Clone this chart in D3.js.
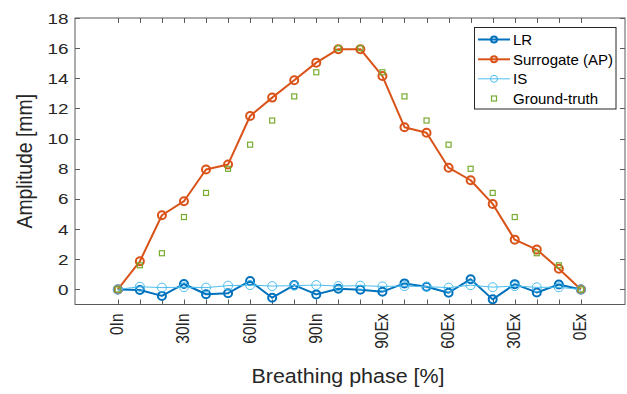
<!DOCTYPE html>
<html>
<head>
<meta charset="utf-8">
<script src="https://cdn.jsdelivr.net/npm/d3@7"></script>
<style>
  html, body { margin: 0; padding: 0; background: #fff; }
  svg { display: block; font-family: "Liberation Sans", Arial, sans-serif; }
</style>
</head>
<body>
<svg id="chart" width="627" height="394"></svg>
<script>
// Breathing phase index (0..21) and tick labels
const phaseIndex = d3.range(22);
const tickPositions = [0, 3, 6, 9, 12, 15, 18, 21];
const tickLabels = ["0In", "30In", "60In", "90In", "90Ex", "60Ex", "30Ex", "0Ex"];
const yTicks = [0, 2, 4, 6, 8, 10, 12, 14, 16, 18];

// Amplitude [mm] per phase
const lrValues = [0, -0.04, -0.43, 0.36, -0.32, -0.25, 0.56, -0.55, 0.29, -0.33, 0.04,
                  -0.02, -0.15, 0.40, 0.18, -0.22, 0.68, -0.66, 0.35, -0.20, 0.33, 0];
const surrogateValues = [0, 1.86, 4.92, 5.85, 7.95, 8.29, 11.5, 12.72, 13.87, 15.04, 15.93,
                         15.93, 14.15, 10.76, 10.39, 8.07, 7.24, 5.67, 3.30, 2.64, 1.37, 0];
const isValues = [0, 0.18, 0.12, 0.15, 0.12, 0.25, 0.29, 0.22, 0.25, 0.29, 0.22,
                  0.25, 0.20, 0.22, 0.18, 0.12, 0.28, 0.15, 0.22, 0.14, 0.14, 0];
const groundTruthValues = [0, 1.6, 2.4, 4.8, 6.4, 8.0, 9.6, 11.2, 12.8, 14.4, 16.0,
                           16.0, 14.4, 12.8, 11.2, 9.6, 8.0, 6.4, 4.8, 2.4, 1.6, 0];

const seriesNames = ["LR", "Surrogate (AP)", "IS", "Ground-truth"];
const seriesColors = ["#0072BD", "#D95319", "#4DBEEE", "#77AC30"];

const svg = d3.select("#chart");
const plot = { left: 75, right: 625, top: 18, bottom: 304.5 };

const x = d3.scaleLinear().domain([-2, 23]).range([plot.left - 1.3, plot.right]);
const y = d3.scaleLinear().domain([-1, 18]).range([plot.bottom, plot.top]);

const axisColor = "#5a5a5a";
const textColor = "#262626";
// glyphs are drawn slightly wider than tall
const stretch = 1.15;

// Axes box
svg.append("rect")
  .attr("x", plot.left).attr("y", plot.top)
  .attr("width", plot.right - plot.left).attr("height", plot.bottom - plot.top)
  .attr("fill", "#fff").attr("stroke", axisColor).attr("stroke-width", 1);

const tickLen = 5;
const gx = svg.append("g");
// Inward ticks on bottom and top at every phase index
phaseIndex.forEach(i => {
  const px = Math.round(x(i)) + 0.5;
  gx.append("line").attr("x1", px).attr("x2", px)
    .attr("y1", plot.bottom).attr("y2", plot.bottom - tickLen)
    .attr("stroke", axisColor);
  gx.append("line").attr("x1", px).attr("x2", px)
    .attr("y1", plot.top).attr("y2", plot.top + tickLen)
    .attr("stroke", axisColor);
});
// Rotated x tick labels
tickPositions.forEach((p, k) => {
  const px = x(p) + 5.5;
  gx.append("text")
    .attr("transform", `translate(${px},${plot.bottom + 9}) rotate(-90) scale(1,${stretch})`)
    .attr("text-anchor", "end")
    .attr("font-size", 15.5)
    .attr("fill", textColor)
    .text(tickLabels[k]);
});

// Y ticks on left and right, labels on left
const gy = svg.append("g");
yTicks.forEach(v => {
  const py = Math.round(y(v)) + 0.5;
  gy.append("line").attr("x1", plot.left).attr("x2", plot.left + tickLen)
    .attr("y1", py).attr("y2", py).attr("stroke", axisColor);
  gy.append("line").attr("x1", plot.right).attr("x2", plot.right - tickLen)
    .attr("y1", py).attr("y2", py).attr("stroke", axisColor);
  gy.append("text")
    .attr("transform", `translate(${plot.left - 6.5},${y(v) + 5.5}) scale(1.22,1)`)
    .attr("text-anchor", "end")
    .attr("font-size", 15.5)
    .attr("fill", textColor)
    .text(v);
});

// Axis titles
svg.append("text")
  .attr("transform", `translate(32,${(plot.top + plot.bottom) / 2}) rotate(-90) scale(1.02,${stretch})`)
  .attr("text-anchor", "middle")
  .attr("font-size", 19)
  .attr("fill", textColor)
  .text("Amplitude [mm]");
svg.append("text")
  .attr("transform", `translate(${(plot.left + plot.right) / 2 - 2},383) scale(1.1,1)`)
  .attr("text-anchor", "middle")
  .attr("font-size", 19.5)
  .attr("fill", textColor)
  .text("Breathing phase [%]");

const line = d3.line().x((d, i) => x(phaseIndex[i])).y(d => y(d));

function drawLineSeries(values, color, width, r) {
  const g = svg.append("g");
  g.append("path").datum(values)
    .attr("d", line).attr("fill", "none")
    .attr("stroke", color).attr("stroke-width", width)
    .attr("stroke-linejoin", "round");
  g.selectAll("circle").data(values).join("circle")
    .attr("cx", (d, i) => x(phaseIndex[i])).attr("cy", d => y(d))
    .attr("r", r).attr("fill", "none")
    .attr("stroke", color).attr("stroke-width", width);
}

drawLineSeries(lrValues, seriesColors[0], 2, 4);
drawLineSeries(surrogateValues, seriesColors[1], 2, 4);
drawLineSeries(isValues, seriesColors[2], 1, 4.5);

// Ground-truth square markers
svg.append("g").selectAll("rect").data(groundTruthValues).join("rect")
  .attr("x", (d, i) => x(phaseIndex[i]) - 2.5)
  .attr("y", d => y(d) - 2.5)
  .attr("width", 5).attr("height", 5)
  .attr("fill", "none").attr("stroke", seriesColors[3]).attr("stroke-width", 1.2);

// Legend
const legend = svg.append("g");
legend.append("rect")
  .attr("x", 474.5).attr("y", 27.5).attr("width", 141.5).attr("height", 81.5)
  .attr("fill", "#fff").attr("stroke", "#262626").attr("stroke-width", 1);
const rowY = [39.5, 59.3, 78.8, 98.5];
seriesNames.forEach((name, k) => {
  const ly = rowY[k];
  if (k < 3) {
    const w = k < 2 ? 2 : 1;
    legend.append("line").attr("x1", 478).attr("x2", 510)
      .attr("y1", ly).attr("y2", ly)
      .attr("stroke", seriesColors[k]).attr("stroke-width", w);
    legend.append("circle").attr("cx", 494).attr("cy", ly).attr("r", k < 2 ? 3 : 3.5)
      .attr("fill", "none").attr("stroke", seriesColors[k]).attr("stroke-width", w);
  } else {
    legend.append("rect").attr("x", 491.5).attr("y", ly - 2.5)
      .attr("width", 5).attr("height", 5)
      .attr("fill", "none").attr("stroke", seriesColors[k]).attr("stroke-width", 1.2);
  }
  legend.append("text")
    .attr("x", 513).attr("y", ly + 5.5)
    .attr("font-size", 15)
    .attr("fill", "#000")
    .text(name);
});
</script>
</body>
</html>
